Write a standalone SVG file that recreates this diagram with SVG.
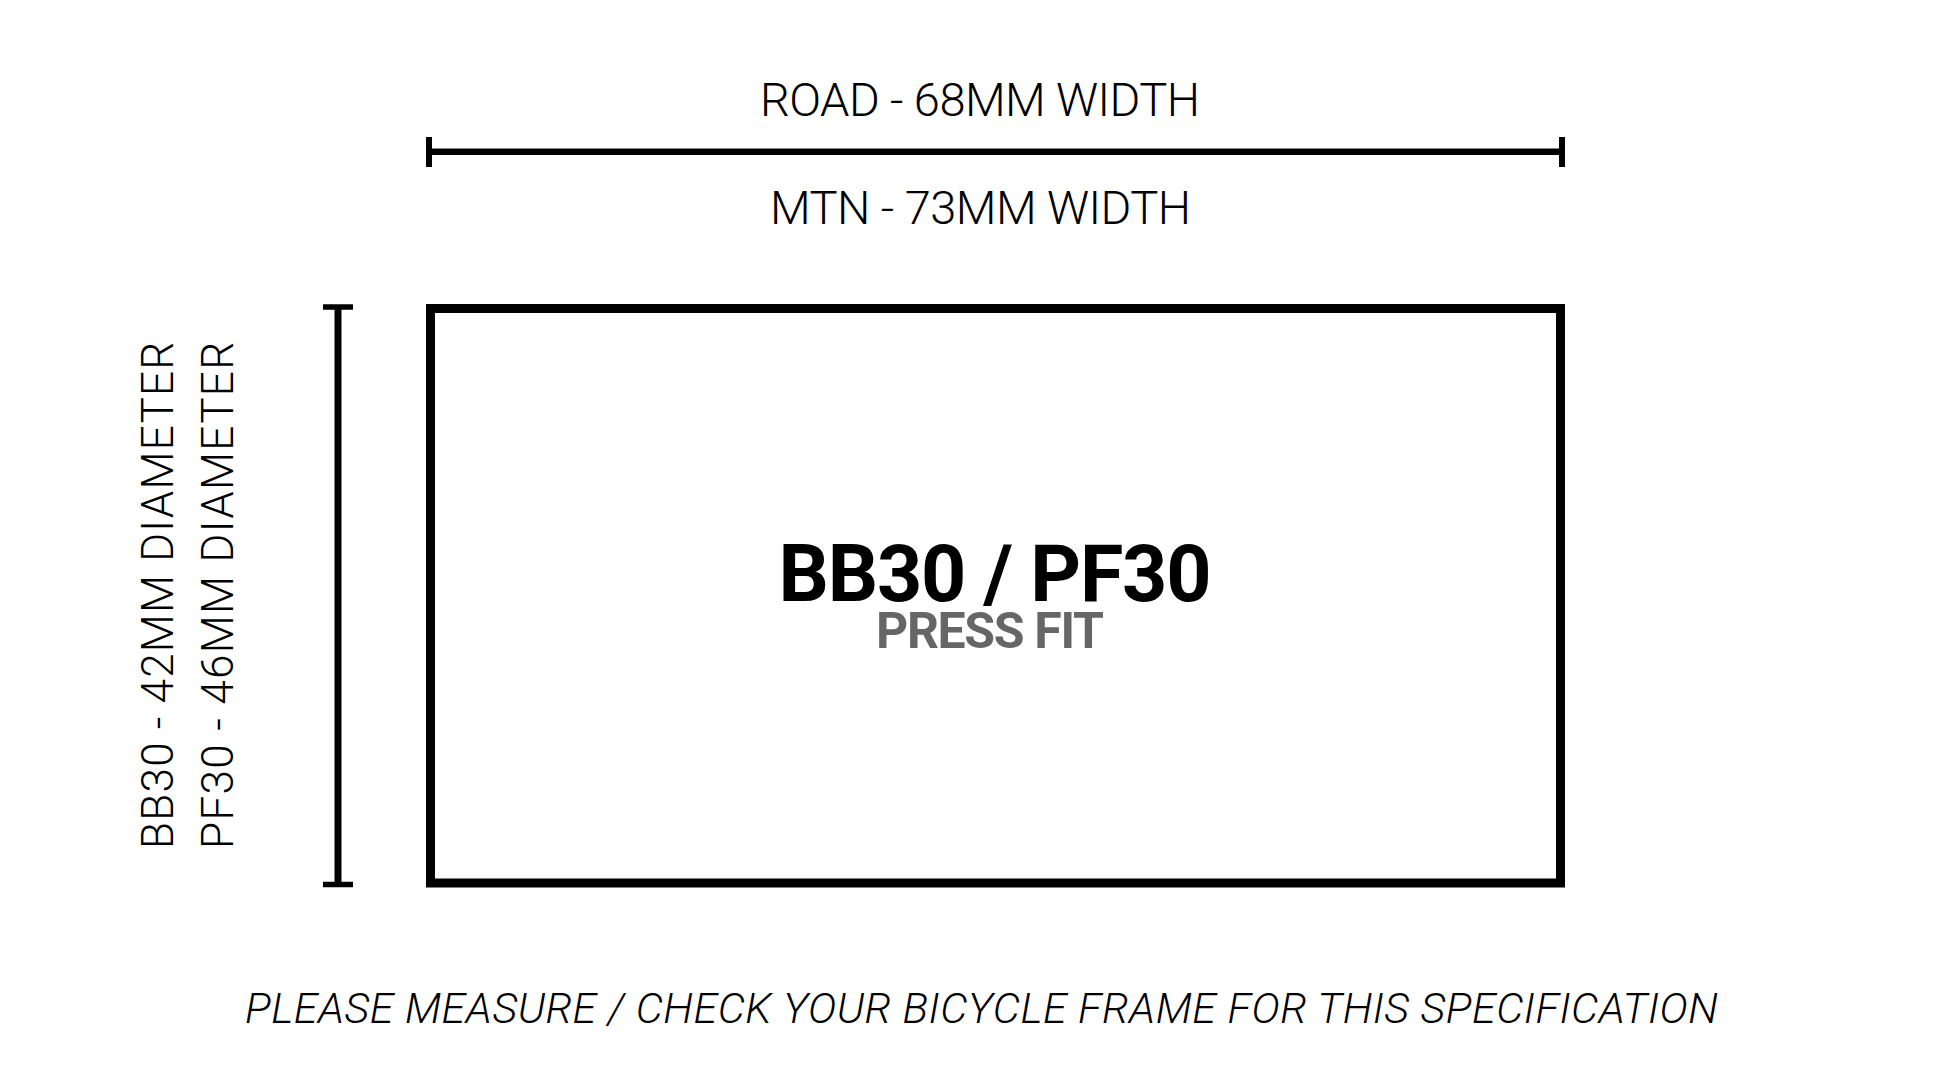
<svg xmlns="http://www.w3.org/2000/svg" width="1960" height="1090" viewBox="0 0 1960 1090">
<style>
.lt{font-family:Roboto,"Liberation Sans",sans-serif;font-weight:300;fill:#000}
.bd{font-family:Roboto,"Liberation Sans",sans-serif;font-weight:700}
.ln{stroke:#000;fill:none}
</style>
<rect width="1960" height="1090" fill="#fff"/>
<g id="connectors">
<line class="ln" x1="429" y1="151.7" x2="1562" y2="151.7" stroke-width="6.5"/>
<line class="ln" x1="429" y1="137" x2="429" y2="167" stroke-width="6"/>
<line class="ln" x1="1562" y1="137" x2="1562" y2="167" stroke-width="6"/>
<line class="ln" x1="338" y1="307" x2="338" y2="884.5" stroke-width="7"/>
<line class="ln" x1="323" y1="307" x2="353" y2="307" stroke-width="5.5"/>
<line class="ln" x1="323" y1="884.5" x2="353" y2="884.5" stroke-width="5.5"/>
</g>
<g id="width-labels">
<text class="lt" x="980" y="116" font-size="47" text-anchor="middle" textLength="440">ROAD - 68MM WIDTH</text>
<text class="lt" x="980.5" y="224" font-size="47" text-anchor="middle" textLength="421">MTN - 73MM WIDTH</text>
</g>
<g id="diameter-labels">
<text class="lt" transform="translate(173.3,595.4) rotate(-90)" x="0" y="0" font-size="44" text-anchor="middle" textLength="507">BB30 - 42MM DIAMETER</text>
<text class="lt" transform="translate(232.7,595.4) rotate(-90)" x="0" y="0" font-size="44" text-anchor="middle" textLength="507">PF30 - 46MM DIAMETER</text>
</g>
<g id="bb-shell">
<rect class="ln" x="430.5" y="308.5" width="1130" height="574.5" stroke-width="9"/>
<text class="bd" x="995" y="601" font-size="79" text-anchor="middle" fill="#000" textLength="433">BB30 / PF30</text>
<text class="bd" x="990" y="648.3" font-size="50" text-anchor="middle" fill="#666" textLength="228">PRESS FIT</text>
</g>
<g id="footnote">
<text class="lt" x="981.5" y="1022.5" font-size="43" font-style="italic" text-anchor="middle" textLength="1473">PLEASE MEASURE / CHECK YOUR BICYCLE FRAME FOR THIS SPECIFICATION</text>
</g>
</svg>
